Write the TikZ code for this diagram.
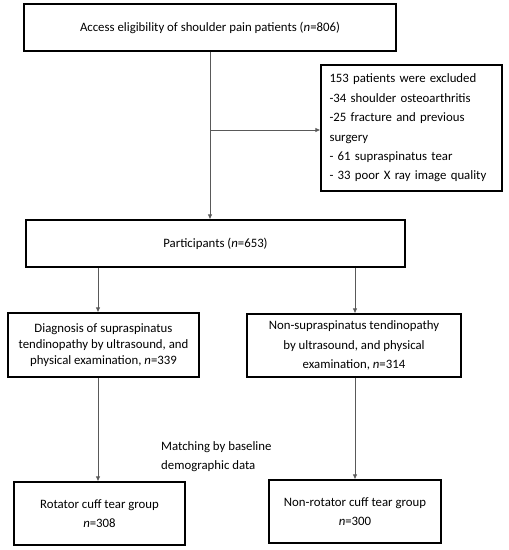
\documentclass[tikz,border=0pt]{standalone}
\usepackage{fontspec}
\setmainfont{Carlito}
\usetikzlibrary{arrows.meta}
\begin{document}
\begin{tikzpicture}[x=1pt,y=-1pt,
  box/.style={draw=black,line width=1.2pt,rectangle,inner sep=0pt,align=center,font=\fontsize{12.8}{19.4}\selectfont},
  arr/.style={draw=black!65,line width=0.8pt,-{Latex[length=5pt,width=4.5pt]}}]
\useasboundingbox (0,0) rectangle (509,550);
\node[box,minimum width=372pt,minimum height=47pt] (b1) at (210,27.5) {Access eligibility of shoulder pain patients (\textit{n}=806)};
\node[box,minimum width=181pt,minimum height=126pt,align=left,text width=164pt] (ex) at (411.5,128) {153 patients were excluded\\-34 shoulder osteoarthritis\\-25 fracture and previous\\surgery\\- 61 supraspinatus tear\\- 33 poor X ray image quality};
\node[box,minimum width=379pt,minimum height=47pt] (b2) at (215.5,243.5) {Participants (\textit{n}=653)};
\node[box,minimum width=191pt,minimum height=64pt,font=\fontsize{12.8}{16}\selectfont] (b3) at (103.5,345) {Diagnosis of supraspinatus\\tendinopathy by ultrasound, and\\physical examination, \textit{n}=339};
\node[box,minimum width=214pt,minimum height=63pt] (b4) at (354,345.5) {Non-supraspinatus tendinopathy\\by ultrasound, and physical\\examination, \textit{n}=314};
\node[box,minimum width=171pt,minimum height=63pt] (b5) at (99.5,513.5) {Rotator cuff tear group\\\textit{n}=308};
\node[box,minimum width=172pt,minimum height=63pt] (b6) at (355,511.5) {Non-rotator cuff tear group\\\textit{n}=300};
\node[align=left,anchor=west,inner sep=0pt,font=\fontsize{12.8}{19.4}\selectfont] (mt) at (161,456.5) {Matching by baseline\\demographic data};
\coordinate (xa) at (210,0);
\coordinate (xl) at (98,0);
\coordinate (xr) at (355,0);
\coordinate (yb) at (0,130);
\draw[arr] (b1.south -| xa) -- (b2.north -| xa);
\draw[arr] (xa |- yb) -- (ex.west |- yb);
\draw[arr] (b2.south -| xl) -- (b3.north -| xl);
\draw[arr] (b2.south -| xr) -- (b4.north -| xr);
\draw[arr] (b3.south -| xl) -- (b5.north -| xl);
\draw[arr] (b4.south -| xr) -- (b6.north -| xr);
\end{tikzpicture}
\end{document}
